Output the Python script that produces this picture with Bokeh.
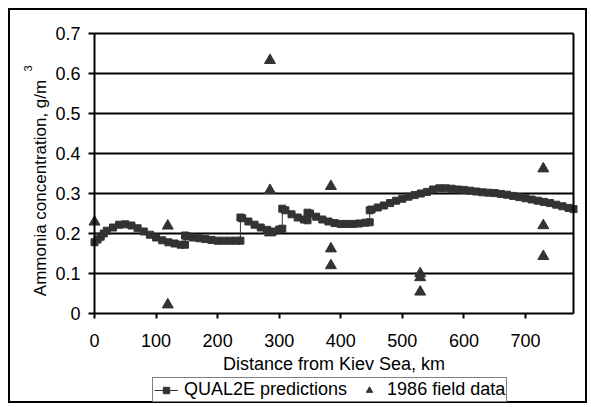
from bokeh.plotting import figure
from bokeh.models import Legend, LegendItem, FixedTicker, Range1d, LinearAxis, Label
from bokeh.embed import file_html
from bokeh.resources import INLINE
import math

# QUAL2E predictions (km, g/m3)
model_km = [0, 5, 10, 15, 20, 30, 40, 50, 60, 70, 80, 90, 100, 110, 120, 130, 140, 147,
            147, 150, 160, 170, 180, 190, 200, 210, 220, 230, 237,
            237, 240, 250, 260, 270, 280, 290, 300, 305,
            305, 310, 320, 330, 340, 346,
            346, 350, 360, 370, 380, 390, 400, 410, 420, 430, 440, 447,
            447, 450, 460, 470, 480, 490, 500, 510, 520, 530, 540, 550, 560, 570, 580,
            590, 600, 610, 620, 630, 640, 650, 660, 670, 680, 690, 700, 710, 720, 730,
            740, 750, 760, 770, 778]
model_val = [0.178, 0.185, 0.192, 0.200, 0.207, 0.215, 0.222, 0.223, 0.220, 0.213, 0.205, 0.197,
             0.190, 0.183, 0.178, 0.175, 0.172, 0.172,
             0.195, 0.193, 0.190, 0.188, 0.186, 0.184, 0.182, 0.182, 0.182, 0.182, 0.182,
             0.240, 0.238, 0.230, 0.222, 0.215, 0.209, 0.205, 0.210, 0.212,
             0.262, 0.258, 0.248, 0.240, 0.235, 0.233,
             0.252, 0.250, 0.242, 0.235, 0.230, 0.226, 0.224, 0.224, 0.224, 0.225, 0.227, 0.228,
             0.258, 0.260, 0.265, 0.270, 0.276, 0.282, 0.287, 0.292, 0.296, 0.300, 0.304,
             0.310, 0.313, 0.313, 0.312, 0.310, 0.309, 0.307, 0.305, 0.303, 0.302, 0.301,
             0.299, 0.297, 0.294, 0.291, 0.288, 0.285, 0.282, 0.279, 0.276, 0.272, 0.268,
             0.264, 0.261]

# 1986 field data
field_km = [0, 119, 119, 285, 285, 285, 384, 384, 384, 529, 529, 529, 729, 729, 729]
field_val = [0.229, 0.219, 0.022, 0.633, 0.308, 0.202, 0.318, 0.162, 0.120,
             0.100, 0.090, 0.054, 0.362, 0.220, 0.143]

x_ticks = [0, 100, 200, 300, 400, 500, 600, 700]
y_ticks = [0, 0.1, 0.2, 0.3, 0.4, 0.5, 0.6, 0.7]
X_MAX = 778
Y_MAX = 0.7

FONT = "Liberation Sans"
FS = "18px"
GRAY = "#333333"

# canvas and plot-area geometry (px); the frame fills the whole canvas
W, H = 579, 395
PL, PT, PW, PH = 84, 23, 479, 280
ppx = PW / X_MAX
ppy = PH / Y_MAX
x0 = -PL / ppx
x1 = X_MAX + (W - PL - PW) / ppx
y1 = Y_MAX + PT / ppy
y0 = -(H - PT - PH) / ppy

p = figure(width=W, height=H, output_backend="svg", toolbar_location=None,
           x_range=Range1d(x0, x1), y_range=Range1d(y0, y1),
           min_border_left=0, min_border_right=0, min_border_top=0, min_border_bottom=0)
p.styles = {"border": "2px solid black", "margin": "8px 0px 0px 8px"}
p.background_fill_color = "white"
p.border_fill_color = "white"
p.outline_line_color = None
p.xgrid.visible = False
p.ygrid.visible = False

p.xaxis.ticker = FixedTicker(ticks=x_ticks)
p.yaxis.ticker = FixedTicker(ticks=y_ticks)
p.xaxis.fixed_location = 0
p.yaxis.fixed_location = 0
p.xaxis.bounds = (0, X_MAX)
p.yaxis.bounds = (0, Y_MAX)
p.yaxis.major_label_overrides = {0: "0", 0.1: "0.1", 0.2: "0.2", 0.3: "0.3", 0.4: "0.4",
                                 0.5: "0.5", 0.6: "0.6", 0.7: "0.7"}
for ax in (p.xaxis, p.yaxis):
    ax.axis_line_color = "black"
    ax.axis_line_width = 2
    ax.major_tick_line_color = "black"
    ax.major_tick_line_width = 2
    ax.major_tick_in = 0
    ax.minor_tick_line_color = None
    ax.major_label_text_font = FONT
    ax.major_label_text_font_size = FS
    ax.major_label_text_color = "black"
p.xaxis.major_tick_out = 5
p.yaxis.major_tick_out = 6
p.xaxis.major_label_standoff = 15
p.yaxis.major_label_standoff = 8

# horizontal grid lines spanning the plot area only, and its right border
for t in y_ticks[1:]:
    g = LinearAxis(ticker=FixedTicker(ticks=[]), fixed_location=t, bounds=(0, X_MAX),
                   axis_line_width=2, axis_line_color="black", major_tick_out=0,
                   major_tick_in=0, minor_tick_out=0, minor_tick_in=0, level="underlay")
    p.add_layout(g, "below")
right_ax = LinearAxis(ticker=FixedTicker(ticks=[]), fixed_location=X_MAX, bounds=(0, Y_MAX),
                      axis_line_width=2, axis_line_color="black", major_tick_out=0,
                      major_tick_in=0, minor_tick_out=0, minor_tick_in=0)
p.add_layout(right_ax, "right")

ln = p.line(model_km, model_val, line_color=GRAY, line_width=1)
sq = p.scatter(model_km, model_val, marker="square", size=7, fill_color=GRAY, line_color=GRAY)
tr = p.scatter(field_km, field_val, marker="triangle", size=11, fill_color=GRAY, line_color=GRAY)

xlab = Label(x=X_MAX / 2, y=-50 / ppy, text="Distance from Kiev Sea, km",
             text_align="center", text_baseline="alphabetic", text_font=FONT,
             text_font_size=FS, text_color="black")
ylab = Label(x=-54 / ppx, y=125.5 / ppy, text="Ammonia concentration, g/m", angle=math.pi / 2,
             text_align="center", text_baseline="alphabetic", text_font=FONT,
             text_font_size="17px", text_color="black")
sup = Label(x=-67 / ppx, y=245 / ppy, text="3", angle=math.pi / 2,
            text_align="center", text_baseline="alphabetic", text_font=FONT,
            text_font_size="11px", text_color="black")
for lab in (xlab, ylab, sup):
    p.add_layout(lab)

legend = Legend(items=[LegendItem(label="QUAL2E predictions", renderers=[ln, sq]),
                       LegendItem(label="1986 field data", renderers=[tr])],
                orientation="horizontal", location=(142, 3),
                label_text_font=FONT, label_text_font_size=FS, label_text_color="black",
                glyph_width=24, glyph_height=16, label_height=16, label_standoff=6, spacing=10,
                padding=1, margin=0, border_line_color="black", border_line_width=1.5,
                background_fill_color="white", background_fill_alpha=1)
p.add_layout(legend, "center")

open("out.html", "w").write(file_html(p, INLINE))
